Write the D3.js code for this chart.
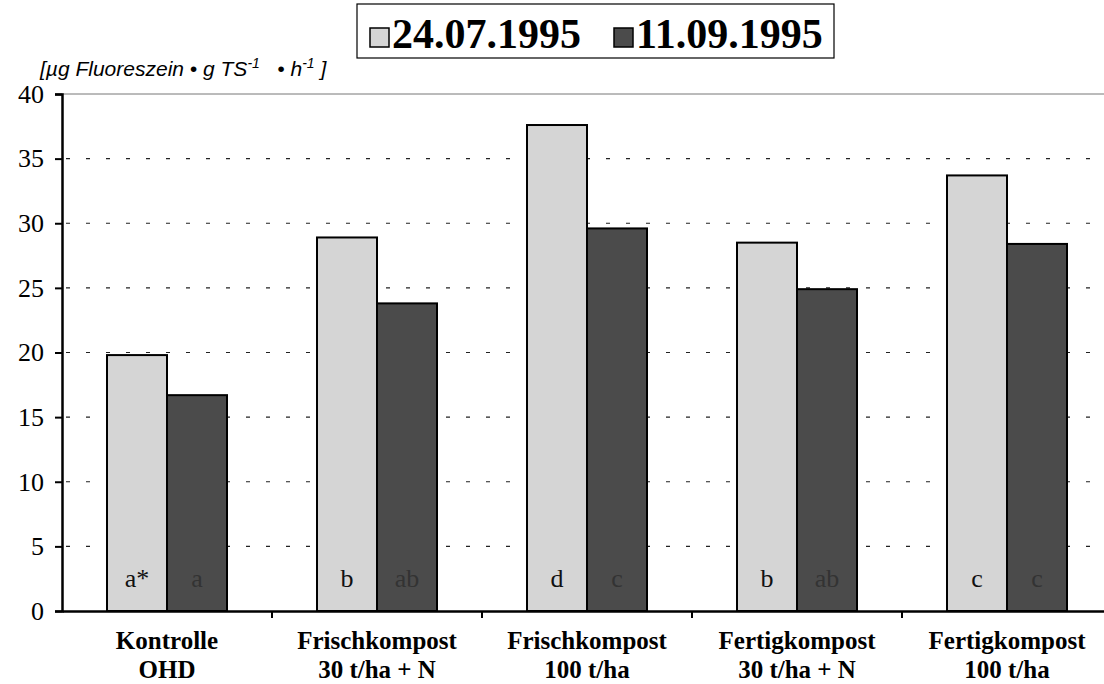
<!DOCTYPE html>
<html>
<head>
<meta charset="utf-8">
<script src="https://cdn.jsdelivr.net/npm/d3@7"></script>
<style>
  body { margin: 0; background: #fff; }
  svg { display: block; }
</style>
</head>
<body>
<div id="chart"></div>
<script>
// categories (two-line labels)
const categories = ['Kontrolle OHD', 'Frischkompost 30', 'Frischkompost 100', 'Fertigkompost 30', 'Fertigkompost 100'];
const categoryLines = [
  ['Kontrolle', 'OHD'],
  ['Frischkompost', '30 t/ha + N'],
  ['Frischkompost', '100 t/ha'],
  ['Fertigkompost', '30 t/ha + N'],
  ['Fertigkompost', '100 t/ha']
];
const seriesNames = ['24.07.1995', '11.09.1995'];
const valuesJuly = [19.8, 28.9, 37.6, 28.5, 33.7];
const valuesSept = [16.7, 23.8, 29.6, 24.9, 28.4];
const lettersJuly = ['a*', 'b', 'd', 'b', 'c'];
const lettersSept = ['a', 'ab', 'c', 'ab', 'c'];
const yTicks = [0, 5, 10, 15, 20, 25, 30, 35, 40];

const width = 1104;
const height = 684;
const margin = { top: 94, left: 62, bottom: 73 };
const plotRight = 1112; // plot continues past the cropped edge
const serif = 'Liberation Serif, Times New Roman, serif';

const svg = d3.select('#chart').append('svg')
  .attr('width', width)
  .attr('height', height);

const x = d3.scaleBand()
  .domain(categories)
  .range([margin.left, plotRight])
  .padding(0);

const xInner = d3.scaleBand()
  .domain(seriesNames)
  .range([45, 165]);

const y = d3.scaleLinear()
  .domain([0, 40])
  .range([height - margin.bottom, margin.top]);

const fills = ['#d5d5d5', '#4b4b4b'];
const letterColors = ['#111', '#333'];

// grid lines
svg.append('g')
  .selectAll('line')
  .data(yTicks.filter(t => t > 0 && t < 40))
  .join('line')
  .attr('x1', margin.left + 4)
  .attr('x2', width)
  .attr('y1', d => y(d))
  .attr('y2', d => y(d))
  .attr('stroke', '#222')
  .attr('stroke-width', 1.2)
  .attr('stroke-dasharray', '4,16');

// top frame line
svg.append('line')
  .attr('x1', margin.left)
  .attr('x2', width)
  .attr('y1', y(40))
  .attr('y2', y(40))
  .attr('stroke', '#777')
  .attr('stroke-width', 1);

// bars
const rows = categories.map((c, i) => ({
  cat: c,
  vals: [valuesJuly[i], valuesSept[i]],
  letters: [lettersJuly[i], lettersSept[i]]
}));

const group = svg.append('g')
  .selectAll('g')
  .data(rows)
  .join('g')
  .attr('transform', d => `translate(${x(d.cat)},0)`);

group.selectAll('rect')
  .data(d => d.vals.map((v, j) => ({ s: seriesNames[j], v, j })))
  .join('rect')
  .attr('x', d => xInner(d.s))
  .attr('width', xInner.bandwidth())
  .attr('y', d => y(d.v))
  .attr('height', d => y(0) - y(d.v))
  .attr('fill', d => fills[d.j])
  .attr('stroke', '#000')
  .attr('stroke-width', 2);

group.selectAll('text.letter')
  .data(d => d.letters.map((l, j) => ({ s: seriesNames[j], l, j })))
  .join('text')
  .attr('class', 'letter')
  .attr('x', d => xInner(d.s) + xInner.bandwidth() / 2)
  .attr('y', y(0) - 24)
  .attr('text-anchor', 'middle')
  .attr('font-family', serif)
  .attr('font-size', 26)
  .attr('fill', d => letterColors[d.j])
  .text(d => d.l);

// y axis
const yAxis = svg.append('g')
  .attr('transform', `translate(${margin.left},0)`)
  .call(d3.axisLeft(y).tickValues(yTicks).tickSize(7).tickPadding(11));
yAxis.select('.domain').attr('stroke', '#000').attr('stroke-width', 2.5);
yAxis.selectAll('.tick line').attr('stroke', '#000').attr('stroke-width', 2);
yAxis.selectAll('.tick text')
  .attr('font-family', serif)
  .attr('font-size', 26)
  .attr('fill', '#000');

// x axis
const xAxis = svg.append('g')
  .attr('transform', `translate(0,${y(0)})`)
  .call(d3.axisBottom(x).tickSize(0).tickFormat(''));
xAxis.select('.domain').attr('stroke', '#000').attr('stroke-width', 2.5);

svg.append('g')
  .selectAll('line')
  .data(categories.slice(1))
  .join('line')
  .attr('x1', d => x(d))
  .attr('x2', d => x(d))
  .attr('y1', y(0))
  .attr('y2', y(0) + 7)
  .attr('stroke', '#000')
  .attr('stroke-width', 2);

// category labels
const catLabel = svg.append('g')
  .selectAll('text')
  .data(categories)
  .join('text')
  .attr('x', d => x(d) + x.bandwidth() / 2)
  .attr('y', y(0) + 38)
  .attr('text-anchor', 'middle')
  .attr('font-family', serif)
  .attr('font-weight', 'bold')
  .attr('font-size', 25);
catLabel.selectAll('tspan')
  .data((d, i) => categoryLines[i])
  .join('tspan')
  .attr('x', function () { return d3.select(this.parentNode).attr('x'); })
  .attr('dy', (d, i) => i === 0 ? 0 : 29)
  .text(d => d);

// axis title
const title = svg.append('text')
  .attr('x', 40)
  .attr('y', 76)
  .attr('font-family', 'Liberation Sans, Arial, sans-serif')
  .attr('font-style', 'italic')
  .attr('font-size', 21)
  .attr('fill', '#000')
  .attr('xml:space', 'preserve');
title.append('tspan').text('[µg Fluoreszein • g TS');
title.append('tspan').attr('dy', -8).attr('font-size', 14).text('-1');
title.append('tspan').attr('dy', 8).text('   • h');
title.append('tspan').attr('dy', -8).attr('font-size', 14).text('-1');
title.append('tspan').attr('dy', 8).text(' ]');

// legend
const legend = svg.append('g');
legend.append('rect')
  .attr('x', 357)
  .attr('y', 4)
  .attr('width', 477)
  .attr('height', 54)
  .attr('fill', '#fff')
  .attr('stroke', '#000')
  .attr('stroke-width', 1.2);

const legendX = [370, 614];
const legendItem = legend.selectAll('g.item')
  .data(seriesNames)
  .join('g')
  .attr('class', 'item')
  .attr('transform', (d, i) => `translate(${legendX[i]},0)`);
legendItem.append('rect')
  .attr('x', 0)
  .attr('y', 28)
  .attr('width', 19)
  .attr('height', 19)
  .attr('fill', (d, i) => fills[i])
  .attr('stroke', '#000')
  .attr('stroke-width', 1.5);
legendItem.append('text')
  .attr('x', 22)
  .attr('y', 48)
  .attr('font-family', serif)
  .attr('font-weight', 'bold')
  .attr('font-size', 42)
  .attr('fill', '#000')
  .text(d => d);
</script>
</body>
</html>
